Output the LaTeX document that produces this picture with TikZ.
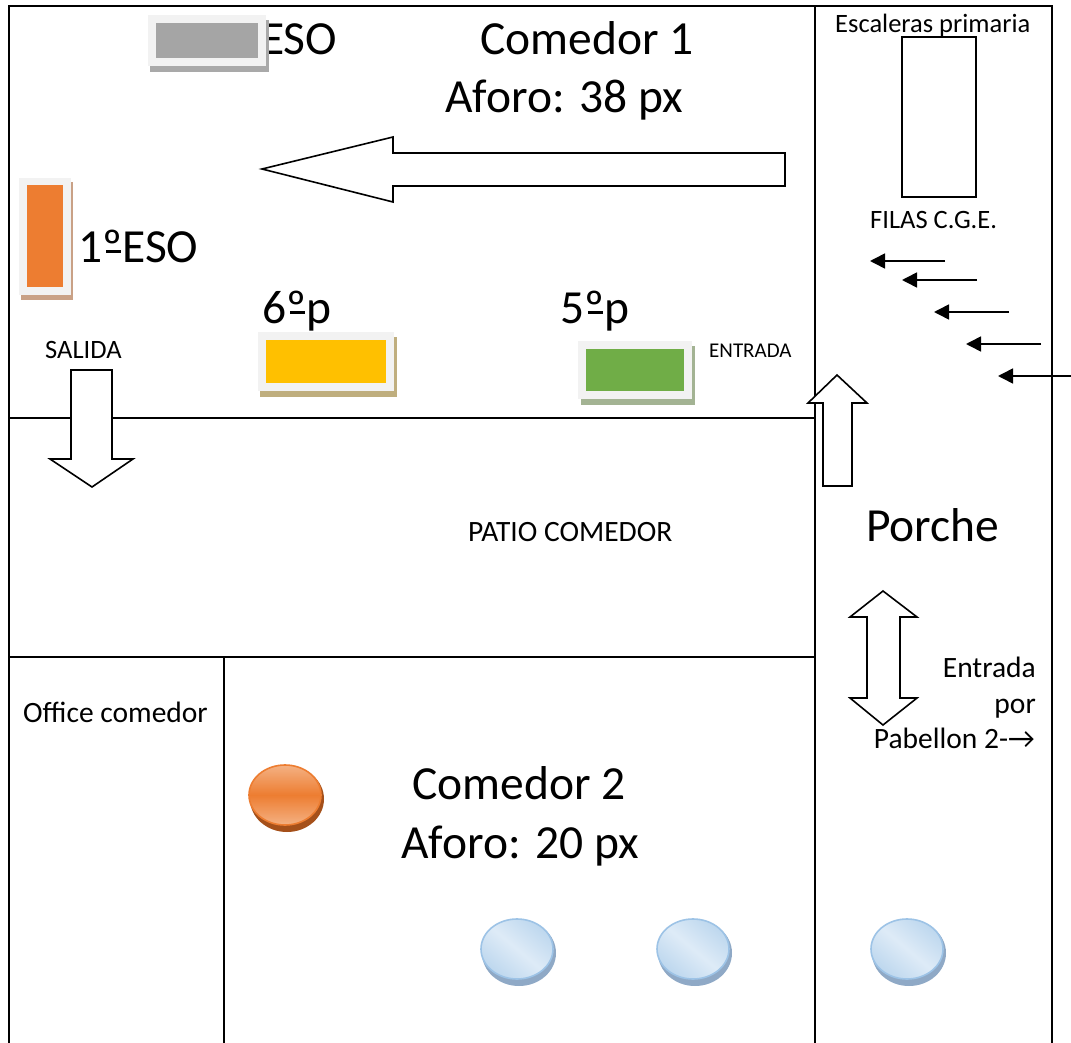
\documentclass[tikz,border=0pt]{standalone}
\usepackage{fontspec}
\setmainfont{Carlito}
\usetikzlibrary{arrows.meta}

\definecolor{trayback}{HTML}{F2F2F2}
\definecolor{orangeface}{HTML}{ED7D31}
\definecolor{orangelight}{HTML}{F4B183}
\definecolor{orangedark}{HTML}{A5501A}
\definecolor{bluerim}{HTML}{9DC3E6}
\definecolor{blueedge}{HTML}{BDD7EE}
\definecolor{bluepale}{HTML}{DEEBF7}
\definecolor{blueback}{HTML}{8FA9C6}

% ordinal mark with its bar
\newcommand{\ordmark}{º\llap{\rule[0.2em]{0.3em}{0.05em}\hspace{0.035em}}}

\tikzset{
    wall/.style={line width=1.6pt, line cap=rect},
    blockarrow/.style={draw, line width=1.6pt, fill=white, line join=miter},
    filaarrow/.style={-{Triangle[length=15pt,width=15pt]}, line width=1.6pt},
    bigtext/.style={anchor=base west, inner sep=0pt, font=\fontsize{47.5}{54}\selectfont},
    midtext/.style={anchor=base west, inner sep=0pt, font=\fontsize{29.5}{34}\selectfont},
    smalltext/.style={anchor=base west, inner sep=0pt, font=\fontsize{26.5}{30}\selectfont},
    tinytext/.style={anchor=base west, inner sep=0pt, font=\fontsize{21}{25}\selectfont}
}

\begin{document}
\begin{tikzpicture}[x=1pt,y=-1pt]
    \useasboundingbox (0,0) rectangle (1071,1043);

    % Walls
    \draw[wall] (9,1043) -- (9,6) -- (1052,6) -- (1052,1043);
    \draw[wall] (815,6) -- (815,1043);
    \draw[wall] (9,418) -- (815,418);
    \draw[wall] (9,657) -- (815,657);
    \draw[wall] (224,657) -- (224,1043);

    % Stairs
    \draw[line width=1.6pt] (902,37) rectangle (976,197);

    % Labels
    \node[bigtext] (comedorone) at (480,55) {Comedor 1};
    \node[bigtext] (aforoone) at (445,113) {Aforo: 38 px};
    \node[bigtext] (eso) at (261,55) {ESO};
    \node[bigtext] (primero) at (78,262) {1\ordmark ESO};
    \node[bigtext] (sexto) at (262,323) {6\ordmark p};
    \node[bigtext] (quinto) at (560,323) {5\ordmark p};
    \node[bigtext] (porche) at (866,541) {Porche};
    \node[bigtext] (comedortwo) at (412,799) {Comedor 2};
    \node[bigtext] (aforotwo) at (401,858) {Aforo: 20 px};
    \node[tinytext] (entrada) at (709,357) {ENTRADA};
    \node[smalltext] (salida) at (45,358) {SALIDA};
    \node[smalltext] (escaleras) at (835,33) {Escaleras primaria};
    \node[smalltext] (filas) at (870,229) {FILAS C.G.E.};
    \node[midtext] (patio) at (468,541) {PATIO COMEDOR};
    \node[midtext] (office) at (23,722) {Office comedor};
    \node[midtext,anchor=base east] (entradapor) at (1036,677) {Entrada};
    \node[midtext,anchor=base east] (por) at (1036,713) {por};
    \node[midtext,anchor=base east] (pabellon) at (1035,748) {Pabellon 2-→};

    % Block arrows
    \draw[blockarrow] (785,153) -- (393,153) -- (393,137) -- (262,169) -- (393,202) -- (393,186) -- (785,186) -- cycle;
    \draw[blockarrow] (71,370) -- (112,370) -- (112,459) -- (133,459) -- (92,487) -- (50,459) -- (71,459) -- cycle;
    \draw[blockarrow] (823,486) -- (823,403) -- (808,403) -- (837,375) -- (867,403) -- (852,403) -- (852,486) -- cycle;
    \draw[blockarrow] (883,591) -- (917,617) -- (900,617) -- (900,698) -- (917,698) -- (883,725) -- (850,698) -- (867,698) -- (867,617) -- (850,617) -- cycle;

    % Queue arrows
    \foreach \n/\xa/\xb/\ya in {1/945/870/261, 2/977/902/280, 3/1009/934/312, 4/1041/966/344, 5/1072/998/376} {
        \coordinate (filastart\n) at (\xa,\ya);
        \coordinate (filaend\n) at (\xb,\ya);
        \draw[filaarrow] (filastart\n) -- (filaend\n);
    }

    % Trays: shadow, border, colour
    \foreach \xa/\ya/\xb/\yb/\xc/\yc/\xd/\yd/\xe/\ye/\face/\back in {
        150/20/269/72/148/15/266/66/156/23/A5A5A5/A9A9A9,
        21/182/73/300/19/178/71/295/27/185/ED7D31/C9A186,
        260/337/397/397/258/332/394/391/266/340/FFC000/BFAE7E,
        581/346/695/405/578/341/692/399/586/349/70AD47/A3B393} {
        \definecolor{trayface}{HTML}{\face}
        \definecolor{trayshadow}{HTML}{\back}
        \fill[trayshadow] (\xa,\ya) rectangle (\xb,\yb);
        \fill[trayback] (\xc,\yc) rectangle (\xd,\yd);
        \pgfmathsetmacro{\xf}{\xd-8}
        \pgfmathsetmacro{\yf}{\yd-8}
        \fill[trayface] (\xe,\ye) rectangle (\xf,\yf);
    }

    % Round tables
    \fill[orangedark] (287,799) ellipse (37 and 33);
    \shade[top color=orangelight, bottom color=orangelight, middle color=orangeface, draw=orangeface, line width=1.6pt] (285,795) ellipse (36 and 30);
    \foreach \x in {517,693,907} {
        \fill[blueback] (\x+2,953) ellipse (37 and 33);
        \shade[top color=blueedge, bottom color=blueedge, middle color=bluepale, shading angle=-40, draw=bluerim, line width=1.6pt] (\x,949) ellipse (36 and 30);
    }
\end{tikzpicture}
\end{document}
